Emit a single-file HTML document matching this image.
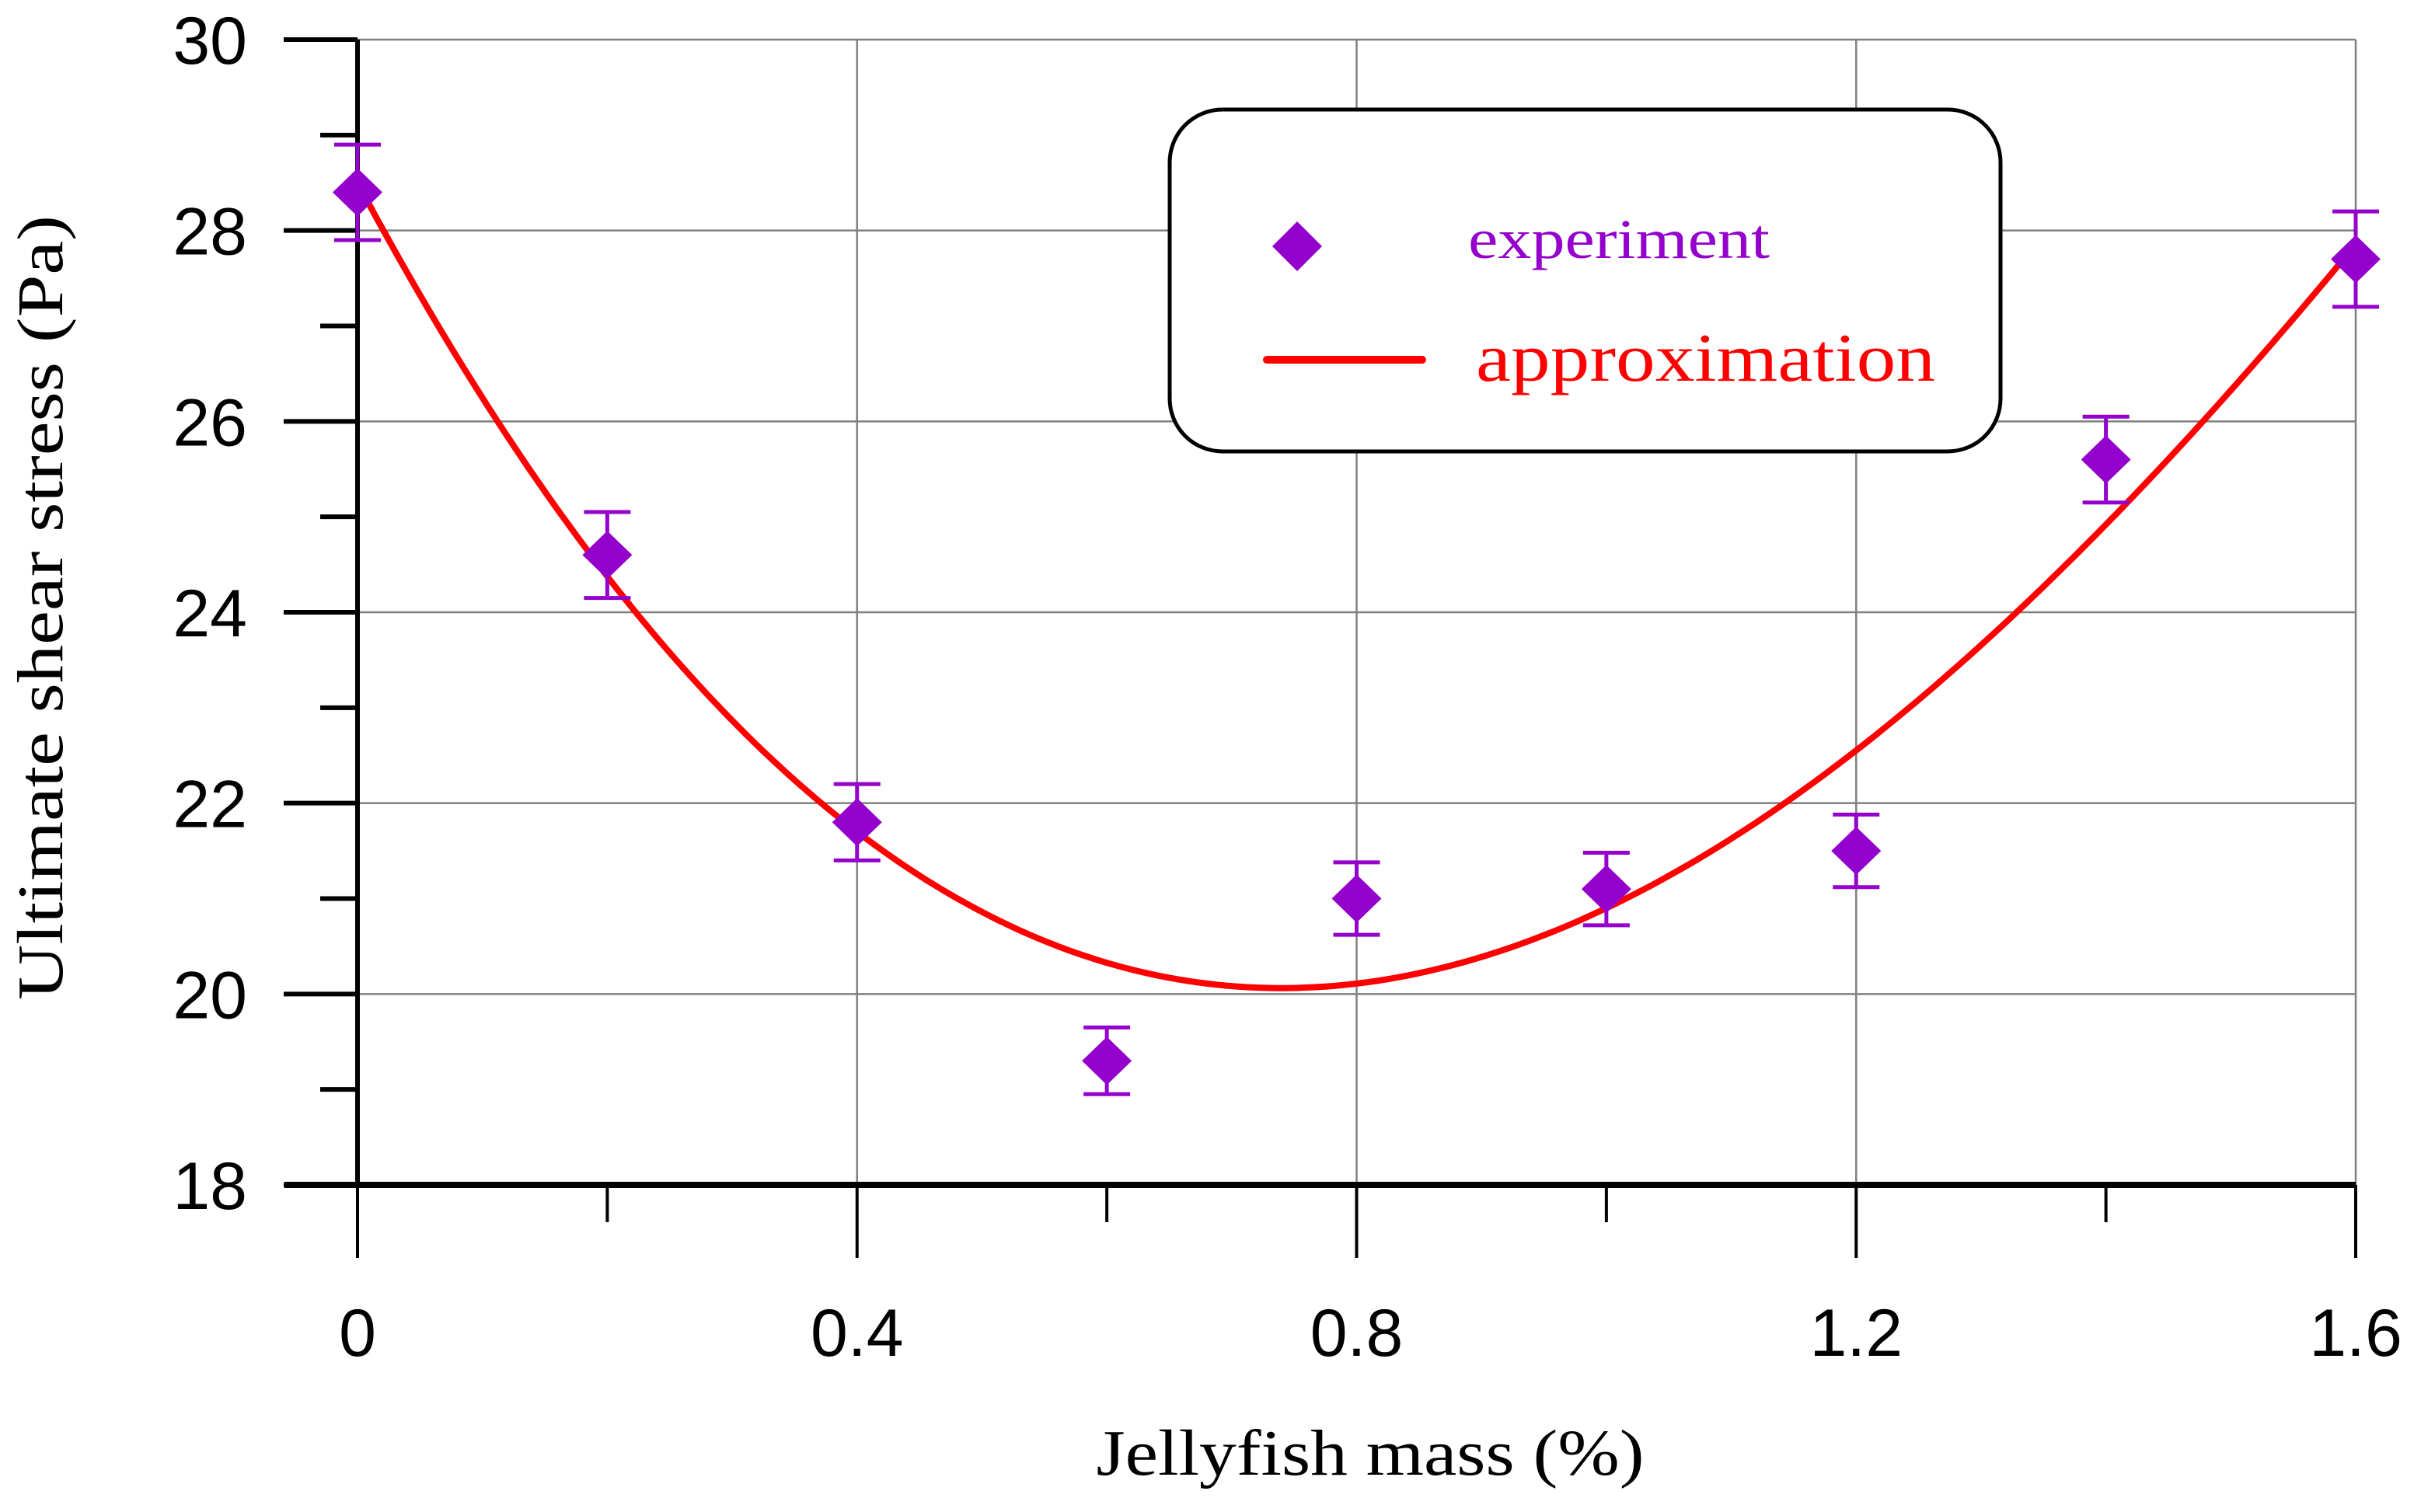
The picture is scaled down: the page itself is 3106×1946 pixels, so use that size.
<!DOCTYPE html>
<html><head><meta charset="utf-8"><style>
html,body{margin:0;padding:0;background:#fff}
svg{display:block}
</style></head><body>
<svg id="chart" width="3106" height="1946" viewBox="0 0 3106 1946" xmlns="http://www.w3.org/2000/svg">
<g id="grid"></g>
<g id="axes"></g>
<g id="series"></g>
<text x="1763" y="1898" text-anchor="middle" font-family="Liberation Serif, serif" font-size="84" textLength="705" lengthAdjust="spacingAndGlyphs">Jellyfish mass (%)</text>
<text transform="translate(80,782) rotate(-90)" text-anchor="middle" font-family="Liberation Serif, serif" font-size="84" textLength="1010" lengthAdjust="spacingAndGlyphs">Ultimate shear stress (Pa)</text>
<g>
<rect x="1505" y="141" width="1069" height="440" rx="68" ry="68" fill="#fff" stroke="#000" stroke-width="5"/>
<polygon points="1669,285 1701,317 1669,349 1637,317" fill="#9400cc"/>
<text x="1889" y="332" font-family="Liberation Serif, serif" font-size="72" fill="#9400cc" textLength="388" lengthAdjust="spacingAndGlyphs">experiment</text>
<line x1="1630" y1="463" x2="1830" y2="463" stroke="#ff0000" stroke-width="10" stroke-linecap="round"/>
<text x="1899" y="490" font-family="Liberation Serif, serif" font-size="88" fill="#ff0000" textLength="591" lengthAdjust="spacingAndGlyphs">approximation</text>
</g>
</svg>
<script>
const xCats = [0, 0.2, 0.4, 0.6, 0.8, 1.0, 1.2, 1.4, 1.6];
const yMeans = [28.4, 24.6, 21.8, 19.3, 21.0, 21.1, 21.5, 25.6, 27.7];
const yErr = [0.5, 0.45, 0.4, 0.35, 0.38, 0.38, 0.38, 0.45, 0.5];
const fitCoeffs = [28.5, -24.49, 19.95, -3.06];
const yTicks = [18, 20, 22, 24, 26, 28, 30];
const yTickLabels = ["18", "20", "22", "24", "26", "28", "30"];
const yMinorTicks = [19, 21, 23, 25, 27, 29];
const xTicks = [0, 0.4, 0.8, 1.2, 1.6];
const xTickLabels = ["0", "0.4", "0.8", "1.2", "1.6"];
const xMinorTicks = [0.2, 0.6, 1.0, 1.4];

const X0 = 460, X1 = 3031, Y0 = 1525, Y1 = 51;
function sx(v){ return X0 + (v - 0) / 1.6 * (X1 - X0); }
function sy(v){ return Y0 - (v - 18) / 12 * (Y0 - Y1); }
const NS = "http://www.w3.org/2000/svg";
function mk(tag, attrs, parent){
  const e = document.createElementNS(NS, tag);
  for (const k in attrs) e.setAttribute(k, attrs[k]);
  parent.appendChild(e);
  return e;
}
const grid = document.getElementById('grid');
const axes = document.getElementById('axes');
const series = document.getElementById('series');

yTicks.forEach((v, i) => {
  if (v > 18) {
    const g = mk('line', {x1: X0, x2: X1, y1: sy(v), y2: sy(v), stroke: '#808080', 'stroke-width': 2.5}, grid);
    
    
  }
  const t = mk('line', {x1: 365, x2: X0, y1: sy(v), y2: sy(v), stroke: '#000', 'stroke-width': 6}, axes);
  
  
  const l = mk('text', {x: 318, y: sy(v) + 31, 'text-anchor': 'end', 'font-family': 'Liberation Sans, sans-serif', 'font-size': 86}, axes);
  l.textContent = yTickLabels[i];
  
  
});
yMinorTicks.forEach(v => {
  const t = mk('line', {x1: 412, x2: X0, y1: sy(v), y2: sy(v), stroke: '#000', 'stroke-width': 6}, axes);
  
  
});
xTicks.forEach((v, i) => {
  if (v > 0) {
    const g = mk('line', {x1: sx(v), x2: sx(v), y1: Y1, y2: Y0, stroke: '#808080', 'stroke-width': 2.5}, grid);
    
    
  }
  const t = mk('line', {x1: sx(v), x2: sx(v), y1: Y0, y2: 1619, stroke: '#000', 'stroke-width': 4}, axes);
  
  
  const l = mk('text', {x: sx(v), y: 1745, 'text-anchor': 'middle', 'font-family': 'Liberation Sans, sans-serif', 'font-size': 86}, axes);
  l.textContent = xTickLabels[i];
  
  
});
xMinorTicks.forEach(v => {
  const t = mk('line', {x1: sx(v), x2: sx(v), y1: Y0, y2: 1573, stroke: '#000', 'stroke-width': 4}, axes);
  
  
});
const ya = mk('line', {x1: X0, x2: X0, y1: Y1, y2: Y0, stroke: '#000', 'stroke-width': 6}, axes);


const xa = mk('line', {x1: 366, x2: X1, y1: Y0, y2: Y0, stroke: '#000', 'stroke-width': 8}, axes);



let d = '';
for (let i = 0; i <= 200; i++) {
  const x = 1.6 * i / 200;
  const y = fitCoeffs[0] + fitCoeffs[1]*x + fitCoeffs[2]*x*x + fitCoeffs[3]*x*x*x;
  d += (i ? 'L' : 'M') + sx(x).toFixed(1) + ',' + sy(y).toFixed(1);
}
const curve = mk('path', {d: d, fill: 'none', stroke: '#ff0000', 'stroke-width': 8}, series);



xCats.forEach((x, i) => {
  const cx = sx(x), top = sy(yMeans[i] + yErr[i]), bot = sy(yMeans[i] - yErr[i]);
  const eb = mk('path', {d: `M${cx},${top}L${cx},${bot}M${cx-30},${top}L${cx+30},${top}M${cx-30},${bot}L${cx+30},${bot}`, stroke: '#9400cc', 'stroke-width': 5, fill: 'none'}, series);
  
  
  const cy = sy(yMeans[i]);
  const p = mk('polygon', {points: `${cx},${cy-31} ${cx+32},${cy} ${cx},${cy+31} ${cx-32},${cy}`, fill: '#9400cc'}, series);
  
  
});
</script>
</body></html>
